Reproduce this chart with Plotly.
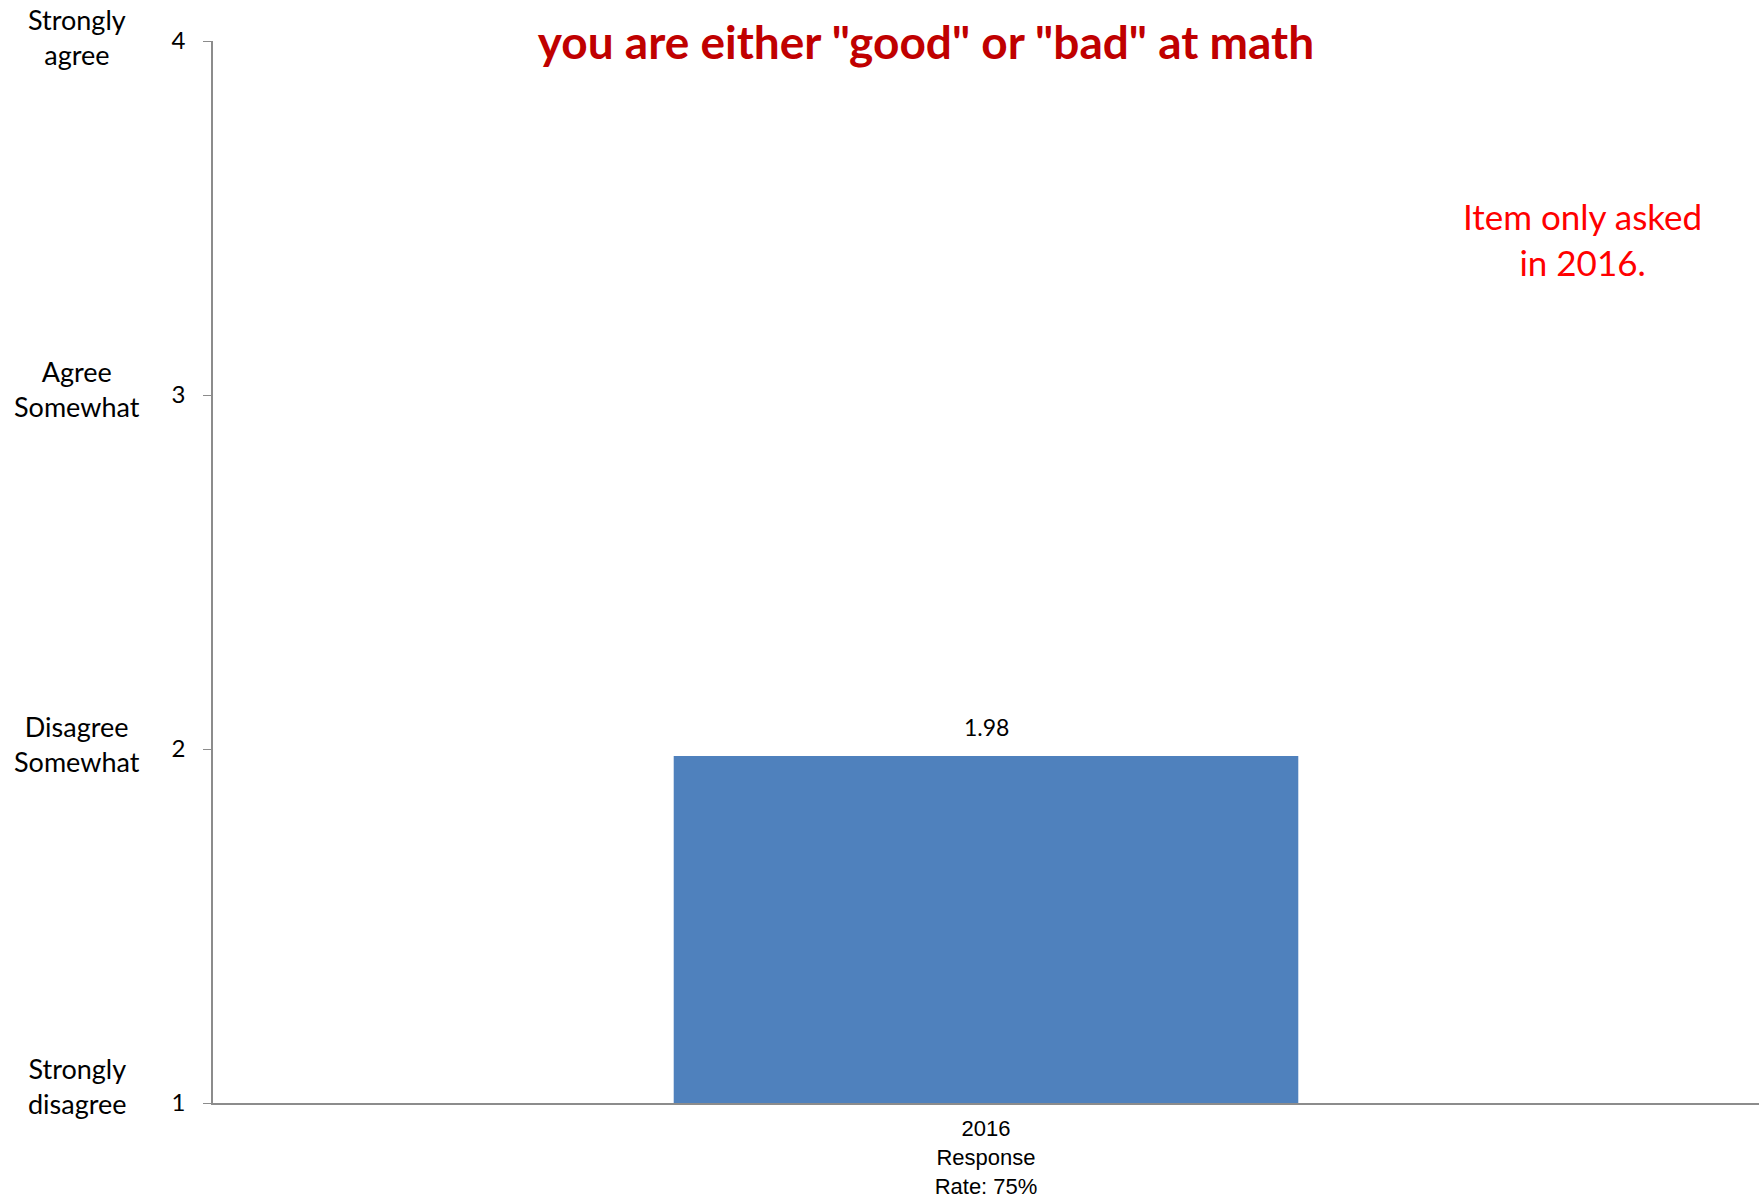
import plotly.graph_objects as go

# ---- data ----
categories = ["2016<br>Response<br>Rate: 75%"]
values = [1.98]
value_labels = ["1.98"]
scale_values = [1, 2, 3, 4]
scale_numbers = ["1", "2", "3", "4"]
scale_labels = ["Strongly<br>disagree", "Disagree<br>Somewhat", "Agree<br>Somewhat", "Strongly<br>agree"]
title_text = 'you are either "good" or "bad" at math'
note_text = "Item only asked<br>in 2016."

# ---- style ----
label_yshift = [17, 5, 6, 4]

fig = go.Figure()
fig.add_trace(go.Bar(
    x=categories, y=[v - 1 for v in values], base=1,
    marker=dict(color="#4F81BD", line=dict(width=0)),
    width=0.404, hoverinfo="skip",
))

annotations = []
for c, v, t in zip(categories, values, value_labels):
    annotations.append(dict(x=c, y=v, xref="x", yref="y", text=t, showarrow=False,
                            yshift=29, font=dict(family="Lato", size=23, color="#000000")))
for v, lab, ys in zip(scale_values, scale_labels, label_yshift):
    annotations.append(dict(x=0, y=v, xref="paper", yref="y", text=lab, showarrow=False,
                            xanchor="center", yanchor="middle", xshift=-136, yshift=ys,
                            font=dict(family="Lato", size=27, color="#000000")))
annotations.append(dict(x=0.886, y=0.8138, xref="paper", yref="paper", text=note_text,
                        showarrow=False, xanchor="center", yanchor="middle",
                        font=dict(family="Lato", size=35, color="#FF0000")))

fig.update_layout(
    width=1759, height=1199,
    margin=dict(l=213, r=0, t=41, b=96, autoexpand=False),
    paper_bgcolor="white", plot_bgcolor="white",
    showlegend=False,
    title=dict(text="<b>" + title_text + "</b>", x=0.5264, xanchor="center",
               y=1 - 43 / 1199, yanchor="middle", yref="container",
               font=dict(family="Lato", size=46, color="#C00000")),
    annotations=annotations,
    bargap=0.6,
)
fig.update_xaxes(
    type="category", showline=True, linecolor="#8C8C8C", linewidth=2,
    showgrid=False, zeroline=False, ticks="", automargin=False,
    ticklabelstandoff=5,
    tickfont=dict(family="Liberation Sans", size=22, color="#000000"),
)
fig.update_yaxes(
    range=[1, 4], tickvals=scale_values, ticktext=scale_numbers,
    showline=True, linecolor="#8C8C8C", linewidth=1.5, automargin=False,
    showgrid=False, zeroline=False, ticks="outside", ticklen=8, tickcolor="#8C8C8C",
    ticklabelstandoff=13,
    tickfont=dict(family="Lato", size=24, color="#000000"),
)

fig.write_html("out.html", config={"displayModeBar": False},
               post_script="document.body.style.margin='0';document.body.style.overflow='hidden';")
